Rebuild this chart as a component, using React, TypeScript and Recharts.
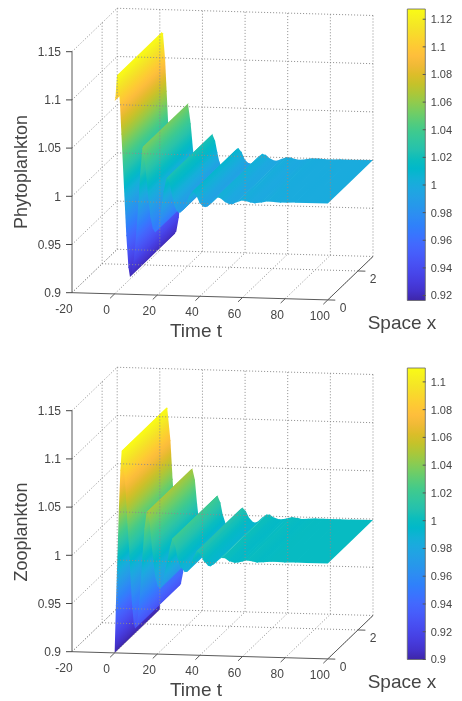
import React from "react";
import { ComposedChart, Area, Line, Bar, XAxis, YAxis } from "recharts";

// ---------- data ----------
const TIME_TICKS = [-20, 0, 20, 40, 60, 80, 100];
const Z_TICKS = [0.9, 0.95, 1, 1.05, 1.1, 1.15];
const SPACE_END = 3;
const SPACE_TICKS = [0, 2];

const PHYTO_T = [0, 0.5, 1.1, 1.8, 2.5, 3.2, 4.4, 5.5, 6.5, 7.2, 8, 9, 10, 11, 12, 13, 13.5, 14.5, 15.6, 16.8, 18, 19, 20, 21, 22, 23, 24.2, 25, 26, 27, 28, 29, 30, 30.8, 32, 33.5, 35, 36.5, 37.3, 38.5, 40, 41.5, 42.5, 43.5, 45, 47, 48.5, 50, 52, 54, 55.5, 57.5, 60, 62, 64, 66, 69, 72, 75, 78, 81, 85, 90, 100];
const PHYTO_Z = [1.1, 1.104, 1.127, 1.125, 1.098, 1.065, 1.01, 0.96, 0.927, 0.918, 0.921, 0.936, 0.96, 0.99, 1.025, 1.052, 1.054, 1.032, 1.005, 0.98, 0.968, 0.965, 0.968, 0.978, 0.992, 1.008, 1.021, 1.023, 1.015, 1.003, 0.993, 0.988, 0.986, 0.986, 0.989, 0.996, 1.004, 1.0085, 1.009, 1.004, 0.996, 0.993, 0.9925, 0.993, 0.996, 1.002, 1.004, 1.002, 0.998, 0.9962, 0.9965, 0.999, 1.001, 1.0, 0.9985, 0.998, 0.999, 1.0005, 1.0, 0.9995, 0.9995, 1.0, 0.9998, 1.0];

const ZOO_T = [0, 0.6, 1.3, 2, 2.7, 3.3, 3.9, 5, 6, 7, 8, 9, 9.6, 10.2, 11, 12, 13, 14, 15, 15.7, 16.5, 17.5, 19, 20.3, 21.3, 22.3, 23.5, 25, 26, 27, 27.6, 28.5, 29.5, 31, 33, 34, 35.5, 37, 38.5, 39.3, 40.5, 42, 44, 45, 46.5, 48.5, 50.5, 52, 54, 56.5, 58, 60, 62.5, 65, 67, 70, 73.5, 77, 80, 85, 90, 100];
const ZOO_Z = [0.9, 0.95, 1.0, 1.05, 1.09, 1.11, 1.109, 1.075, 1.035, 1.0, 0.955, 0.93, 0.926, 0.928, 0.94, 0.965, 1.0, 1.03, 1.047, 1.048, 1.035, 1.01, 0.98, 0.97, 0.968, 0.972, 0.985, 1.0, 1.012, 1.02, 1.02, 1.012, 1.0, 0.99, 0.9856, 0.986, 0.992, 1.002, 1.008, 1.0084, 1.004, 0.997, 0.9928, 0.9925, 0.9945, 0.9995, 1.0023, 1.0015, 0.998, 0.9967, 0.9973, 0.9985, 1.0, 0.9988, 0.9977, 0.9985, 0.9991, 0.999, 0.9988, 0.999, 0.9988, 0.999];

const PHYTO_CBAR_TICKS = [0.92, 0.94, 0.96, 0.98, 1, 1.02, 1.04, 1.06, 1.08, 1.1, 1.12];
const ZOO_CBAR_TICKS = [0.9, 0.92, 0.94, 0.96, 0.98, 1, 1.02, 1.04, 1.06, 1.08, 1.1];
const PHYTO_CBAR_RANGE: [number, number] = [0.9164, 1.1274];
const ZOO_CBAR_RANGE: [number, number] = [0.9, 1.11];

const PARULA = [
  [0.2422, 0.1504, 0.6603], [0.2647, 0.1978, 0.7952], [0.2751, 0.2342, 0.871], [0.2803, 0.2782, 0.9221],
  [0.281, 0.3228, 0.9579], [0.276, 0.3667, 0.9829], [0.2602, 0.4123, 0.9952], [0.2206, 0.4603, 0.9973],
  [0.1834, 0.5074, 0.9798], [0.1764, 0.5499, 0.952], [0.154, 0.5902, 0.9218], [0.138, 0.6276, 0.8973],
  [0.1113, 0.6635, 0.8763], [0.0689, 0.6948, 0.8394], [0.0036, 0.7203, 0.7917], [0.0433, 0.7411, 0.7394],
  [0.1408, 0.7584, 0.6842], [0.1938, 0.7758, 0.6251], [0.247, 0.7918, 0.5567], [0.3406, 0.8008, 0.4789],
  [0.4456, 0.8024, 0.3909], [0.5616, 0.7942, 0.3045], [0.672, 0.7793, 0.2227], [0.7738, 0.7598, 0.1646],
  [0.8634, 0.7406, 0.1596], [0.9393, 0.7288, 0.21], [0.9956, 0.7434, 0.2371], [0.9952, 0.7893, 0.2028],
  [0.9786, 0.8386, 0.1766], [0.961, 0.889, 0.1537], [0.9628, 0.9373, 0.1265], [0.9769, 0.9839, 0.0805],
];

// ---------- view of the box ----------
const FONT = '"Liberation Sans", Arial, sans-serif';
const INK = "#454545";
const PX_PER_T = 256 / 120;
const PX_PER_Z = 964;
const AXIS_LEFT = 72;
const FLOOR_Y = 292.7;
const T_DROP = 0.06;
const X_DX = 15.07;
const X_DY = 14.47;
const PLOT_W = 301;
const PLOT_TOP = 2;
const PLOT_BOTTOM = 306;
const U_DOMAIN: [number, number] = [-20, -20 + PLOT_W / PX_PER_T];
const V_DOMAIN: [number, number] = [0.9 - (PLOT_BOTTOM - FLOOR_Y) / PX_PER_Z, 0.9 + (FLOOR_Y - PLOT_TOP) / PX_PER_Z];

const toU = (t: number, x: number) => t + (x * X_DX) / PX_PER_T;
const toV = (t: number, x: number, z: number) => z + (x * X_DY - (t + 20) * T_DROP) / PX_PER_Z;
const pxX = (u: number) => AXIS_LEFT + (u + 20) * PX_PER_T;
const pxY = (v: number) => FLOOR_Y - (v - 0.9) * PX_PER_Z;

const seg = (a: number[], b: number[]) => [
  { u: toU(a[0], a[1]), v: toV(a[0], a[1], a[2]) },
  { u: toU(b[0], b[1]), v: toV(b[0], b[1], b[2]) },
];

function gridSegments() {
  const out: { u: number; v: number }[][] = [];
  const L = SPACE_END;
  for (const t of TIME_TICKS) {
    out.push(seg([t, L, 0.9], [t, L, 1.15]));
    out.push(seg([t, 0, 0.9], [t, L, 0.9]));
  }
  for (const z of Z_TICKS) {
    out.push(seg([-20, L, z], [100, L, z]));
    out.push(seg([-20, 0, z], [-20, L, z]));
  }
  out.push(seg([-20, 2, 0.9], [-20, 2, 1.15]));
  out.push(seg([-20, 2, 0.9], [100, 2, 0.9]));
  return out;
}

function axisSegments() {
  const L = SPACE_END;
  const out = [seg([-20, 0, 0.9], [-20, 0, 1.15]), seg([-20, 0, 0.9], [100, 0, 0.9]), seg([100, 0, 0.9], [100, L, 0.9])];
  // the first tick of Time t would leave the plot to the left; the 0.9 tick of the vertical axis stands in for it
  for (const t of TIME_TICKS.slice(1)) out.push(seg([t, 0, 0.9], [t, -0.3, 0.9]));
  for (const x of SPACE_TICKS) out.push(seg([100, x, 0.9], [103.5, x, 0.9]));
  return out;
}

function cmap(z: number, range: [number, number]) {
  const f = Math.max(0, Math.min(1, (z - range[0]) / (range[1] - range[0]))) * (PARULA.length - 1);
  const i = Math.min(PARULA.length - 2, Math.floor(f));
  const k = f - i;
  const c = PARULA[i].map((p, j) => Math.round((p + (PARULA[i + 1][j] - p) * k) * 255));
  return `rgb(${c[0]},${c[1]},${c[2]})`;
}

// outline of the strip between two time steps, as a lower and an upper bound per plot position
function quadBounds(t1: number, z1: number, t2: number, z2: number) {
  const L = SPACE_END;
  const vs = [
    [toU(t1, 0), toV(t1, 0, z1)],
    [toU(t1, L), toV(t1, L, z1)],
    [toU(t2, L), toV(t2, L, z2)],
    [toU(t2, 0), toV(t2, 0, z2)],
  ];
  const xs = vs.map((p) => p[0]).sort((a, b) => a - b);
  return xs.map((u) => {
    const hits: number[] = [];
    for (let i = 0; i < 4; i++) {
      const a = vs[i];
      const b = vs[(i + 1) % 4];
      const lo = Math.min(a[0], b[0]);
      const hi = Math.max(a[0], b[0]);
      if (u < lo - 1e-9 || u > hi + 1e-9 || hi - lo < 1e-9) continue;
      hits.push(a[1] + ((u - a[0]) / (b[0] - a[0])) * (b[1] - a[1]));
    }
    return { u, range: [Math.min(...hits), Math.max(...hits)] };
  });
}

function quadGradient(id: string, t1: number, z1: number, t2: number, z2: number, range: [number, number]) {
  const x1 = pxX(toU(t1, 0));
  const y1 = pxY(toV(t1, 0, z1));
  const x2 = pxX(toU(t2, 0));
  const y2 = pxY(toV(t2, 0, z2));
  // colour lines run along the Space direction, so the vector is normal to it
  const len = Math.hypot(X_DX, X_DY);
  const nx = X_DY / len;
  const ny = X_DX / len;
  const d = (x2 - x1) * nx + (y2 - y1) * ny;
  const n = Math.max(2, Math.ceil(Math.abs(z2 - z1) / 0.006) + 1);
  const stops = [];
  for (let i = 0; i < n; i++) {
    const f = i / (n - 1);
    stops.push(<stop key={i} offset={f} stopColor={cmap(z1 + (z2 - z1) * f, range)} />);
  }
  return (
    <linearGradient key={id} id={id} gradientUnits="userSpaceOnUse" x1={x1} y1={y1} x2={x1 + nx * d} y2={y1 + ny * d}>
      {stops}
    </linearGradient>
  );
}

// start of a strip, pulled about a pixel back over the strip before it so no seam shows
function overlapStart(ts: number[], zs: number[], i: number) {
  if (i === 0) return [ts[0], zs[0]];
  const dt = ts[i] - ts[i - 1];
  const dz = zs[i] - zs[i - 1];
  const f = Math.min(1, 1.2 / Math.hypot(dt * PX_PER_T, dz * PX_PER_Z));
  return [ts[i] - dt * f, zs[i] - dz * f];
}

function XTick(props: any) {
  const { x, payload } = props;
  const t = payload.value;
  return (
    <text x={x - 8} y={FLOOR_Y + (t + 20) * T_DROP + 20} textAnchor="middle" fontSize={12} fontFamily={FONT} fill={INK}>
      {t}
    </text>
  );
}

function Panel({ id, ts, zs, range, yLabel, yLabelCenter, top }: any) {
  const grid = gridSegments();
  const axes = axisSegments();
  const quads = ts.slice(0, -1).map((t: number, i: number) => {
    const s = overlapStart(ts, zs, i);
    return {
      id: `${id}-q${i}`,
      data: quadBounds(s[0], s[1], ts[i + 1], zs[i + 1]),
      grad: quadGradient(`${id}-q${i}`, t, zs[i], ts[i + 1], zs[i + 1], range),
    };
  });
  const sx0 = pxX(toU(100, 0));
  const sy0 = pxY(toV(100, 0, 0.9));
  return (
    <div style={{ position: "absolute", left: 0, top }}>
      <ComposedChart width={445} height={350} margin={{ top: PLOT_TOP, right: 72, bottom: 0, left: 0 }}>
        <defs>{quads.map((q: any) => q.grad)}</defs>
        <XAxis
          type="number"
          dataKey="u"
          domain={U_DOMAIN}
          ticks={TIME_TICKS}
          interval={0}
          axisLine={false}
          tickLine={false}
          height={44}
          tick={<XTick />}
        />
        <YAxis
          type="number"
          dataKey="v"
          domain={V_DOMAIN}
          ticks={Z_TICKS}
          interval={0}
          width={72}
          axisLine={false}
          tickSize={6}
          tickMargin={5}
          tickLine={{ stroke: INK }}
          tick={{ fontSize: 12, fontFamily: FONT, fill: INK }}
        />
        {grid.map((s, i) => (
          <Line key={`g${i}`} data={s} dataKey="v" stroke="#8c8c8c" strokeWidth={1} strokeDasharray="1 2" dot={false} activeDot={false} isAnimationActive={false} legendType="none" />
        ))}
        {quads.map((q: any) => (
          <Area key={q.id} data={q.data} dataKey="range" type="linear" fill={`url(#${q.id})`} fillOpacity={1} stroke="none" dot={false} activeDot={false} isAnimationActive={false} legendType="none" />
        ))}
        {axes.map((s, i) => (
          <Line key={`a${i}`} data={s} dataKey="v" stroke="#5a5a5a" strokeWidth={1} dot={false} activeDot={false} isAnimationActive={false} legendType="none" />
        ))}
        <text x={22} y={yLabelCenter} fontSize={18} fontFamily={FONT} fill={INK} textAnchor="middle" dominantBaseline="middle" transform={`rotate(-90 22 ${yLabelCenter})`}>
          {yLabel}
        </text>
        <text x={196} y={337} fontSize={19} fontFamily={FONT} fill={INK} textAnchor="middle">
          Time t
        </text>
        <text x={402} y={329} fontSize={19} fontFamily={FONT} fill={INK} textAnchor="middle">
          Space x
        </text>
        {SPACE_TICKS.map((x) => (
          <text key={x} x={sx0 + x * X_DX + 15} y={sy0 - x * X_DY + 12.5} fontSize={12} fontFamily={FONT} fill={INK} textAnchor="middle">
            {x}
          </text>
        ))}
      </ComposedChart>
    </div>
  );
}

function CbarTick(props: any) {
  const { x, y, payload } = props;
  return (
    <g>
      <line x1={x - 3} x2={x} y1={y} y2={y} stroke="#555" />
      <text x={x + 5} y={y} dy="0.36em" fontSize={11} fontFamily={FONT} fill={INK}>
        {payload.value}
      </text>
    </g>
  );
}

function Colorbar({ id, ticks, range, top }: any) {
  const stops = [];
  for (let i = 0; i < PARULA.length; i++) {
    const f = i / (PARULA.length - 1);
    stops.push(<stop key={i} offset={f} stopColor={cmap(range[0] + (range[1] - range[0]) * f, range)} />);
  }
  return (
    <div style={{ position: "absolute", left: 400, top }}>
      <ComposedChart width={62} height={310} data={[{ c: "bar", span: range }]} margin={{ top: 9, right: 0, bottom: 9.5, left: 7.3 }} barCategoryGap={0}>
        <defs>
          <linearGradient id={id} x1="0" y1="1" x2="0" y2="0">
            {stops}
          </linearGradient>
        </defs>
        <XAxis dataKey="c" hide />
        <YAxis orientation="right" type="number" domain={range} ticks={ticks} interval={0} width={36.3} axisLine={false} tickLine={false} tickSize={0} tickMargin={0} tick={<CbarTick />} />
        <Bar dataKey="span" fill={`url(#${id})`} stroke="#666" strokeWidth={0.8} isAnimationActive={false} legendType="none" />
      </ComposedChart>
    </div>
  );
}

export default function App() {
  return (
    <div style={{ position: "absolute", left: 0, top: 0, width: 462, height: 701, background: "#fff", overflow: "hidden", filter: "blur(0.45px)" }}>
      <Panel id="phyto" ts={PHYTO_T} zs={PHYTO_Z} range={PHYTO_CBAR_RANGE} yLabel="Phytoplankton" yLabelCenter={172} top={0} />
      <Panel id="zoo" ts={ZOO_T} zs={ZOO_Z} range={ZOO_CBAR_RANGE} yLabel="Zooplankton" yLabelCenter={173} top={358.5} />
      <Colorbar id="cb1" ticks={PHYTO_CBAR_TICKS} range={PHYTO_CBAR_RANGE} top={0} />
      <Colorbar id="cb2" ticks={ZOO_CBAR_TICKS} range={ZOO_CBAR_RANGE} top={358.5} />
    </div>
  );
}
